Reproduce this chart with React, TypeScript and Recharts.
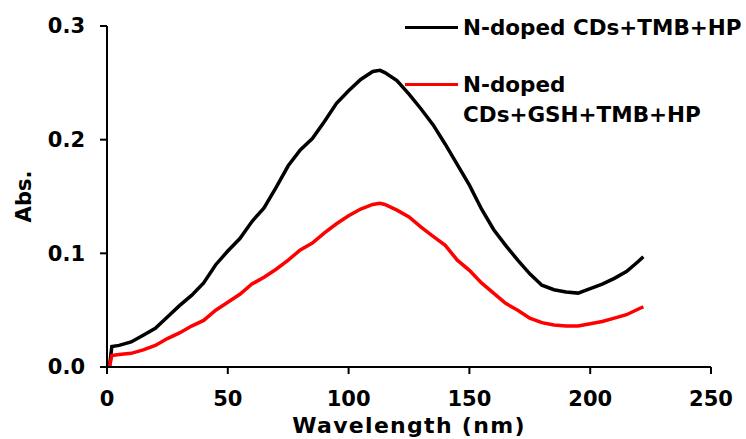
import { LineChart, Line, XAxis, YAxis, Legend } from "recharts";

const wavelengths = [1, 2, 5, 10, 15, 20, 25, 30, 35, 40, 45, 50, 55, 60, 65, 70, 75, 80, 85, 90, 95, 100, 105, 110, 113, 115, 120, 125, 130, 135, 140, 145, 150, 155, 160, 165, 170, 175, 180, 185, 190, 195, 200, 205, 210, 215, 220, 222];

const absTmb = [0.0, 0.018, 0.019, 0.022, 0.028, 0.034, 0.044, 0.054, 0.063, 0.074, 0.09, 0.102, 0.113, 0.128, 0.14, 0.158, 0.177, 0.191, 0.201, 0.216, 0.232, 0.243, 0.253, 0.26, 0.261, 0.259, 0.252, 0.24, 0.227, 0.213, 0.196, 0.178, 0.16, 0.139, 0.121, 0.107, 0.094, 0.082, 0.072, 0.068, 0.066, 0.065, 0.069, 0.073, 0.078, 0.084, 0.093, 0.097];

const absGsh = [0.0, 0.01, 0.011, 0.012, 0.015, 0.019, 0.025, 0.03, 0.036, 0.041, 0.05, 0.057, 0.064, 0.073, 0.079, 0.086, 0.094, 0.103, 0.109, 0.118, 0.126, 0.133, 0.139, 0.143, 0.144, 0.143, 0.138, 0.132, 0.123, 0.115, 0.107, 0.094, 0.085, 0.074, 0.065, 0.056, 0.05, 0.043, 0.039, 0.037, 0.036, 0.036, 0.038, 0.04, 0.043, 0.046, 0.051, 0.053];

const xTicks = [0, 50, 100, 150, 200, 250];
const yTicks = [0, 0.1, 0.2, 0.3];

const data = wavelengths.map((nm, i) => ({ nm, tmb: absTmb[i], gsh: absGsh[i] }));

const font = "'DejaVu Sans', Verdana, sans-serif";
const tickStyle = { fill: "#000", fontSize: 21, fontWeight: 700, fontFamily: font };

// legend rows, top offset per series
const legendTop: Record<string, number> = { tmb: 13, gsh: 70 };

function LegendBox(props: any) {
  const payload = props.payload || [];
  return (
    <div style={{ position: "relative", width: 346, height: 140, overflow: "hidden", fontFamily: font, fontWeight: 700, fontSize: 21.5, color: "#000" }}>
      {payload.map((p: any) => (
        <div key={p.dataKey} style={{ position: "absolute", left: 5, top: legendTop[p.dataKey], width: 341 }}>
          <span style={{ position: "absolute", left: 0, top: 12.6, width: 53, height: 3.5, background: p.color }} />
          <div style={{ marginLeft: 58, width: 283, lineHeight: "29.5px", textAlign: "left" }}>{p.value}</div>
        </div>
      ))}
    </div>
  );
}

export default function App() {
  return (
    <div style={{ position: "absolute", left: 0, top: 0, width: 746, height: 439, background: "#fff" }}>
      <LineChart width={746} height={439} data={data} margin={{ top: 26, right: 35, left: 0, bottom: 0 }}>
        <XAxis
          type="number"
          dataKey="nm"
          domain={[0, 250]}
          ticks={xTicks}
          height={72}
          tickSize={7}
          tickMargin={17}
          tick={tickStyle}
          axisLine={{ stroke: "#000", strokeWidth: 2 }}
          tickLine={{ stroke: "#000", strokeWidth: 2 }}
          label={{ value: "Wavelength (nm)", position: "insideBottom", offset: 6, style: { fill: "#000", fontSize: 22, fontWeight: 700, fontFamily: font, letterSpacing: 1.3 } }}
        />
        <YAxis
          type="number"
          domain={[0, 0.3]}
          ticks={yTicks}
          width={107}
          tickSize={7}
          tickMargin={15}
          tick={tickStyle}
          tickFormatter={(v: number) => v.toFixed(1)}
          axisLine={{ stroke: "#000", strokeWidth: 2 }}
          tickLine={{ stroke: "#000", strokeWidth: 2 }}
          label={{ value: "Abs.", angle: -90, position: "insideLeft", offset: 24, style: { fill: "#000", fontSize: 21, fontWeight: 700, fontFamily: font, textAnchor: "middle" } }}
        />
        <Legend
          layout="vertical"
          align="center"
          verticalAlign="middle"
          content={<LegendBox />}
          wrapperStyle={{ top: 0, left: 400, width: 346, height: 140 }}
        />
        <Line type="linear" dataKey="tmb" name="N-doped CDs+TMB+HP" stroke="#000" strokeWidth={3.5} dot={false} isAnimationActive={false} />
        <Line type="linear" dataKey="gsh" name="N-doped CDs+GSH+TMB+HP" stroke="#ff0000" strokeWidth={3.5} dot={false} isAnimationActive={false} />
      </LineChart>
    </div>
  );
}
